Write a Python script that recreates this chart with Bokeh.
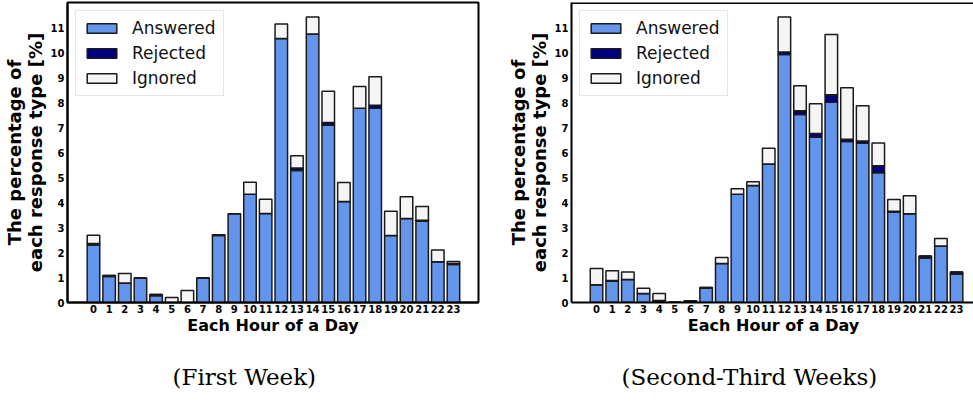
from bokeh.plotting import figure
from bokeh.models import ColumnDataSource, FixedTicker, Range1d, Title, Span, Legend
from bokeh.layouts import row
from bokeh.embed import file_html
from bokeh.resources import INLINE

hours = list(range(24))
series_names = ["Answered", "Rejected", "Ignored"]
series_colors = ["#6495ED", "#000080", "#F5F5F5"]

week1_answered = [2.31, 1.04, 0.78, 0.98, 0.27, 0.00, 0.00, 0.98, 2.69, 3.56, 4.34, 3.57,
                  10.59, 5.29, 10.77, 7.11, 4.05, 7.79, 7.79, 2.69, 3.37, 3.26, 1.63, 1.52]
week1_rejected = [0.06, 0.04, 0.00, 0.00, 0.05, 0.00, 0.00, 0.00, 0.03, 0.00, 0.00, 0.00,
                  0.00, 0.10, 0.00, 0.11, 0.00, 0.00, 0.12, 0.00, 0.00, 0.04, 0.00, 0.04]
week1_ignored = [0.33, 0.00, 0.38, 0.00, 0.00, 0.20, 0.48, 0.00, 0.00, 0.00, 0.48, 0.57,
                 0.58, 0.49, 0.68, 1.25, 0.76, 0.87, 1.14, 0.97, 0.87, 0.55, 0.48, 0.08]

week23_answered = [0.71, 0.86, 0.92, 0.36, 0.05, 0.01, 0.02, 0.57, 1.56, 4.34, 4.69, 5.55,
                   9.94, 7.54, 6.63, 8.03, 6.46, 6.39, 5.20, 3.62, 3.56, 1.78, 2.27, 1.14]
week23_rejected = [0.00, 0.02, 0.00, 0.00, 0.03, 0.00, 0.04, 0.03, 0.00, 0.00, 0.00, 0.00,
                   0.11, 0.15, 0.15, 0.30, 0.09, 0.09, 0.28, 0.04, 0.00, 0.08, 0.00, 0.08]
week23_ignored = [0.65, 0.39, 0.30, 0.21, 0.28, 0.00, 0.01, 0.00, 0.24, 0.22, 0.15, 0.64,
                  1.40, 1.00, 1.19, 2.42, 2.06, 1.41, 0.92, 0.47, 0.72, 0.00, 0.30, 0.00]

y_ticks = list(range(12))
x_label = "Each Hour of a Day"
y_label = "The percentage of\neach response type [%]"
captions = ["(First Week)", "(Second-Third Weeks)"]

Y_END = 12.03


def make_chart(answered, rejected, ignored, caption, x_start, x_end, frame_w,
               border_left, border_right, caption_offset, outline):
    src = ColumnDataSource(dict(hour=hours, answered=answered,
                                rejected=rejected, ignored=ignored))
    p = figure(output_backend="svg", toolbar_location=None,
               frame_width=frame_w, frame_height=300,
               min_border_left=border_left, min_border_right=border_right,
               min_border_top=2, min_border_bottom=60,
               x_range=Range1d(x_start, x_end), y_range=Range1d(0, Y_END))
    p.toolbar.logo = None
    renderers = p.vbar_stack(["answered", "rejected", "ignored"], x="hour", width=0.8,
                             source=src, fill_color=series_colors,
                             line_color="#1a1a1a", line_width=1.5)
    legend = Legend(items=[(n, [r]) for n, r in zip(series_names, renderers)],
                    location="top_left")
    legend.margin = 8
    legend.padding = 7
    legend.spacing = 5
    legend.label_height = 20
    legend.glyph_width = 37
    legend.glyph_height = 12
    legend.label_standoff = 12
    legend.label_text_font = "DejaVu Sans"
    legend.label_text_font_size = "17px"
    legend.label_text_color = "#111111"
    legend.border_line_color = "#cccccc"
    legend.border_line_width = 1
    legend.background_fill_alpha = 0.85
    p.add_layout(legend, "center")

    p.grid.visible = False
    p.background_fill_color = "white"
    if outline:
        p.outline_line_color = "black"
        p.outline_line_width = 2
    else:
        p.outline_line_color = None
        p.add_layout(Span(location=Y_END, dimension="width", line_color="black", line_width=3))

    p.xaxis.ticker = FixedTicker(ticks=hours)
    p.yaxis.ticker = FixedTicker(ticks=y_ticks)
    for ax in (p.xaxis[0], p.yaxis[0]):
        ax.axis_line_color = "black"
        ax.axis_line_width = 2
        ax.major_tick_line_color = None
        ax.minor_tick_line_color = None
        ax.major_tick_out = 0
        ax.major_tick_in = 0
        ax.major_label_text_font = "DejaVu Sans"
        ax.major_label_text_font_style = "bold"
        ax.major_label_text_font_size = "10px"
        ax.major_label_text_color = "black"
        ax.axis_label_text_font = "DejaVu Sans"
        ax.axis_label_text_font_style = "bold"
        ax.axis_label_text_color = "black"
        ax.axis_label_text_line_height = 1.0
    p.xaxis.major_label_standoff = 2
    p.yaxis.major_label_standoff = 3
    p.xaxis.axis_label = x_label
    p.xaxis.axis_label_text_font_size = "16px"
    p.xaxis.axis_label_standoff = 0
    p.yaxis.axis_label = y_label
    p.yaxis.axis_label_text_font_size = "18px"
    p.yaxis.axis_label_standoff = 2

    t = Title(text=caption, align="left", offset=caption_offset,
              text_font="DejaVu Serif", text_font_size="23px",
              text_font_style="normal", text_color="black", standoff=49)
    p.add_layout(t, "below")
    return p


p1 = make_chart(week1_answered, week1_rejected, week1_ignored, captions[0],
                -1.66, 24.6, 411, 57, 14, 105, True)
p2 = make_chart(week23_answered, week23_rejected, week23_ignored, captions[1],
                -1.6, 24.21, 404, 79, 0, 50, False)

layout = row(p1, p2)
open("out.html", "w").write(file_html(layout, INLINE))
